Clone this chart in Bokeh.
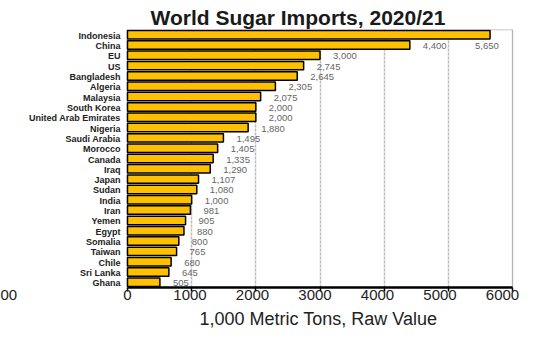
from bokeh.plotting import figure
from bokeh.models import (ColumnDataSource, FactorRange, Range1d, LinearAxis,
                          FixedTicker, Title, BoxAnnotation)
from bokeh.core.properties import value
from bokeh.embed import file_html
from bokeh.resources import INLINE

countries = ["Indonesia", "China", "EU", "US", "Bangladesh", "Algeria", "Malaysia",
             "South Korea", "United Arab Emirates", "Nigeria", "Saudi Arabia", "Morocco",
             "Canada", "Iraq", "Japan", "Sudan", "India", "Iran", "Yemen", "Egypt",
             "Somalia", "Taiwan", "Chile", "Sri Lanka", "Ghana"]
imports = [5650, 4400, 3000, 2745, 2645, 2305, 2075, 2000, 2000, 1880, 1495, 1405,
           1335, 1290, 1107, 1080, 1000, 981, 905, 880, 800, 765, 680, 645, 505]
inner_ticks = [0, 1000, 2000, 3000, 4000, 5000, 6000]
grid_ticks = [1000, 2000, 3000, 4000, 5000]
outer_ticks = [-1912, 0, 1000, 2000, 3000, 4000, 5000, 6000]
outer_tick_labels = {-1912: "00"}   # cropped label of a neighbouring axis
title_text = "World Sugar Imports, 2020/21"
x_label = "1,000 Metric Tons, Raw Value"

FONT = "Liberation Sans"
vmax = max(imports)
src = ColumnDataSource(dict(
    country=countries,
    val=imports,
    base=[0] * len(imports),
    lab=[f"{v:,}" for v in imports],
    xo=[-15 if v == vmax else 13 for v in imports],
    yo=[11 if v == vmax else 1 for v in imports],
))

p = figure(width=533, height=341, output_backend="svg", toolbar_location=None,
           y_range=FactorRange(factors=list(reversed(countries)), range_padding=0),
           x_range=Range1d(-1979, 6327),
           min_border_left=0, min_border_right=0, min_border_top=29,
           min_border_bottom=54, background_fill_color="white",
           border_fill_color="white")
p.extra_x_ranges = {"outer": Range1d(-2032, 6496)}

p.title = Title(text=title_text, align="left", offset=150,
                text_font=FONT, text_font_size="21px", text_font_style="bold",
                text_color="#1a1a1a", standoff=1)

p.outline_line_color = None

# grid
p.xgrid.ticker = FixedTicker(ticks=grid_ticks)
p.xgrid.grid_line_color = "#BBBBBB"
p.xgrid.grid_line_width = 1.5
p.xgrid.grid_line_dash = "3 1"
p.ygrid.grid_line_color = None

# inner chart box
p.add_layout(BoxAnnotation(left=inner_ticks[0], right=inner_ticks[-1],
                           fill_color=None, line_color="black", line_width=1.3,
                           level="underlay"))

p.hbar(y="country", left="base", right="val", height=0.82, source=src,
       fill_color="#FFC000", line_color="black", line_width=1.5)

p.text(x="val", y="country", text="lab", x_offset="xo", y_offset="yo", source=src,
       text_font=value(FONT), text_font_size="9.5px", text_color="#666666",
       text_baseline="middle", text_align="left")

# category labels
p.text(x="base", y="country", text="country", x_offset=-7, y_offset=1, source=src,
       text_font=value(FONT), text_font_size="9px", text_font_style="bold",
       text_color="#222222", text_baseline="middle", text_align="right")

# inner axis (line + ticks only)
ax = p.xaxis[0]
ax.bounds = (inner_ticks[0], inner_ticks[-1])
ax.ticker = FixedTicker(ticks=inner_ticks)
ax.axis_line_width = 2.5
ax.axis_line_color = "black"
ax.major_tick_out = 4
ax.major_tick_in = 0
ax.major_tick_line_width = 1.5
ax.major_tick_line_color = "black"
ax.minor_tick_line_color = None
ax.major_label_overrides = {t: "" for t in inner_ticks}
ax.major_label_text_font_size = "1px"
ax.major_label_standoff = 0

# outer axis (labels only)
oax = LinearAxis(x_range_name="outer", ticker=FixedTicker(ticks=outer_ticks))
oax.major_label_overrides = outer_tick_labels
oax.axis_line_color = None
oax.major_tick_line_color = None
oax.minor_tick_line_color = None
oax.major_tick_out = 0
oax.major_tick_in = 0
oax.major_label_standoff = -2
oax.major_label_text_font = FONT
oax.major_label_text_font_size = "15px"
oax.major_label_text_color = "#222222"
p.add_layout(oax, "below")

# x axis title, centred under the inner chart
p.add_layout(Title(text=x_label, align="left", offset=199, standoff=9,
                   text_font=FONT, text_font_size="18px", text_font_style="normal",
                   text_color="#222222"), "below")

p.yaxis.visible = False

open("out.html", "w").write(file_html(p, INLINE))
